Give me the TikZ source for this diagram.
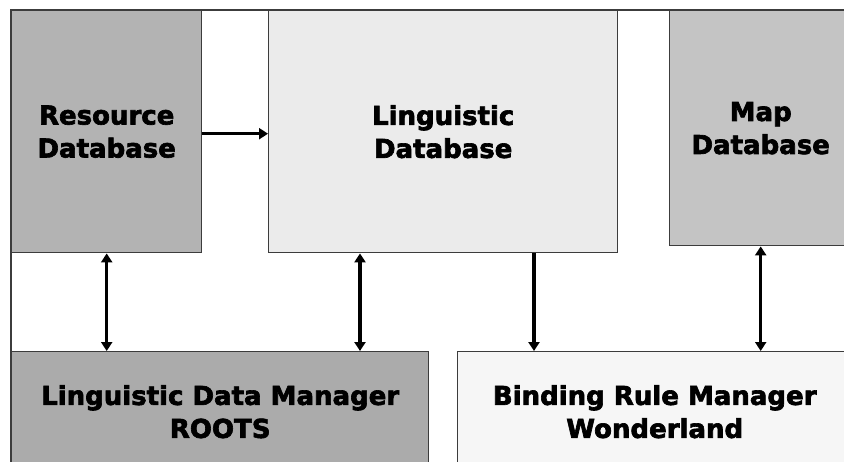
\documentclass[tikz,border=0pt]{standalone}
\usepackage{fontspec}
\setmainfont{DejaVu Sans}
\newfontfamily\heavyfont[FakeBold=2.5]{DejaVu Sans Bold}
\usetikzlibrary{arrows.meta,positioning}
\definecolor{resgray}{RGB}{179,179,179}
\definecolor{linggray}{RGB}{235,235,235}
\definecolor{mapgray}{RGB}{196,196,196}
\definecolor{ldmgray}{RGB}{171,171,171}
\definecolor{bindgray}{RGB}{246,246,246}
\definecolor{edgegray}{RGB}{60,60,60}

\begin{document}
\begin{tikzpicture}[x=1pt, y=-1pt,
  box/.style={draw=edgegray, line width=1.4pt, inner sep=0pt, align=center, anchor=north west,
    font=\heavyfont\fontsize{26}{33}\selectfont},
  arrow/.style={-{Triangle[length=9pt,width=11pt]}, line width=3.4pt},
  darrow/.style={{Triangle[length=9pt,width=11pt]}-{Triangle[length=9pt,width=11pt]}, line width=3.4pt}
]
\useasboundingbox (0,0) rectangle (844,461);
\clip (0,0) rectangle (844,461);
% outer frame
\draw[edgegray, line width=1.4pt] (11,480) -- (11,10) -- (870,10);
% databases
\node[box, fill=resgray, minimum width=190pt, minimum height=242pt] (resource) at (11,10) {Resource\\Database};
\node[box, fill=linggray, minimum width=349pt, minimum height=242pt] (ling) at (268,10) {Linguistic\\Database};
\node[box, fill=mapgray, minimum width=182pt, minimum height=235pt] (map) at (669,10) {Map\\Database};
% managers
\node[box, fill=ldmgray, minimum width=417pt, minimum height=120pt] (ldm) at (11,351) {Linguistic Data Manager\\ROOTS};
\node[box, fill=bindgray, minimum width=394pt, minimum height=120pt] (bind) at (457,351) {Binding Rule Manager\\Wonderland};
% connectors
\draw[arrow] ([yshift=-2pt]resource.east) -- ([yshift=-2pt]resource.east -| ling.west);
\draw[darrow] (resource.south) -- (resource.south |- ldm.north);
\draw[darrow] ([xshift=92pt]ling.south west) -- ([xshift=92pt]ling.south west |- ldm.north);
\draw[arrow] ([xshift=266pt]ling.south west) -- ([xshift=266pt]ling.south west |- bind.north);
\draw[darrow] (map.south) -- (map.south |- bind.north);
\end{tikzpicture}
\end{document}
